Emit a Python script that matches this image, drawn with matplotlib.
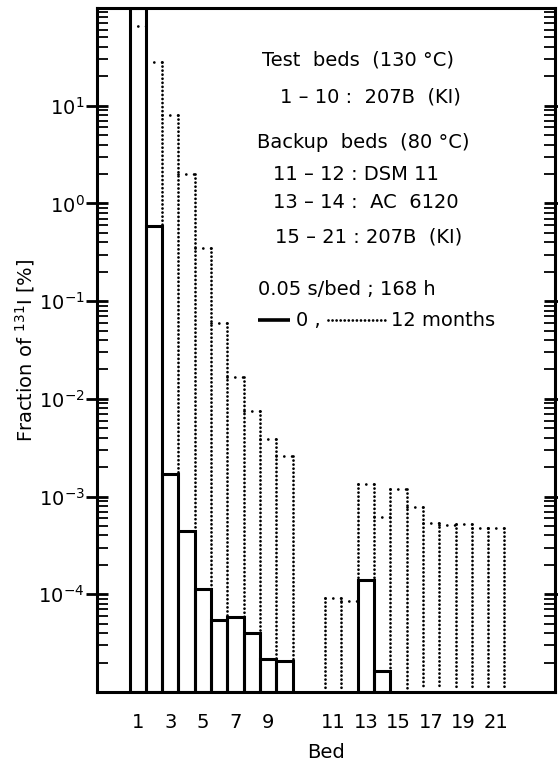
import numpy as np
import matplotlib
matplotlib.use("Agg")
import matplotlib.pyplot as plt
from matplotlib.ticker import FixedLocator, LogLocator, NullFormatter, LogFormatterSciNotation

# ---------------- data ----------------
test_beds = [1, 2, 3, 4, 5, 6, 7, 8, 9, 10]
backup_beds = [11, 12, 13, 14, 15, 16, 17, 18, 19, 20, 21]

# 0 months (solid outline)
fresh_test = [99.0, 0.59, 1.7e-3, 4.4e-4, 1.13e-4, 5.4e-5, 5.8e-5, 4.0e-5, 2.2e-5, 2.07e-5]
fresh_backup = [np.nan, np.nan, 1.4e-4, 1.64e-5, np.nan, np.nan, np.nan, np.nan, np.nan, np.nan, np.nan]

# 12 months (dotted outline)
aged_test = [65.0, 28.0, 8.0, 2.0, 0.35, 0.060, 0.0167, 0.0075, 0.0039, 0.0026]
aged_backup = [9.1e-5, 8.5e-5, 1.34e-3, 6.2e-4, 1.19e-3, 7.8e-4, 5.36e-4, 5.11e-4, 5.24e-4, 4.8e-4, 4.8e-4]

xtick_beds = [1, 3, 5, 7, 9, 11, 13, 15, 17, 19, 21]
ytick_values = [1e-4, 1e-3, 1e-2, 1e-1, 1e0, 1e1]

legend_lines = ["Test  beds  (130 \u00b0C)", "1 \u2013 10 :  207B  (KI)",
                "Backup  beds  (80 \u00b0C)", "11 \u2013 12 : DSM 11",
                "13 \u2013 14 :  AC  6120", "15 \u2013 21 : 207B  (KI)",
                "0.05 s/bed ; 168 h"]

YMIN, YMAX = 1e-5, 1e2
GAP = 2  # empty bed slots between the two groups


def bed_pos(b):
    b = np.asarray(b, float)
    return np.where(b > 10, b + GAP, b)


plt.rcParams['font.family'] = ['DejaVu Sans']
plt.rcParams['mathtext.default'] = 'regular'
FS = 14

fig = plt.figure(figsize=(5.58, 7.64), dpi=100)
L, R, B, T = 97 / 558, 555 / 558, 1 - 692 / 764, 1 - 8 / 764
ax = fig.add_axes([L, B, R - L, T - B])
ax.set_yscale('log')
ax.set_ylim(YMIN, YMAX)
ax.set_xlim(-1.5, 26.6)

LW_DOT = 2.0
DOT = (0, (0.01, 1.45))
DOT_TOP = (0, (0.01, 2.8))
LW_SOLID = 2.2


def dotted_group(beds, vals):
    pos = bed_pos(beds)
    vals = np.asarray(vals, float)
    edges = np.concatenate([pos - 0.5, [pos[-1] + 0.5]])
    padded = np.concatenate([[YMIN], vals, [YMIN]])
    heights = np.maximum(padded[:-1], padded[1:])
    for e, h in zip(edges, heights):
        ax.plot([e, e], [h, YMIN * 1.08], color='black', linewidth=LW_DOT,
                linestyle=DOT, dash_capstyle='round', zorder=2)
    for p, v in zip(pos, vals):
        ax.plot([p - 0.5, p + 0.5], [v, v], color='black', linewidth=LW_DOT,
                linestyle=DOT_TOP, dash_capstyle='round', zorder=2)


def solid_group(beds, vals):
    pos = bed_pos(beds)
    vals = np.asarray(vals, float)
    m = ~np.isnan(vals)
    ax.bar(pos[m], vals[m] - YMIN, bottom=YMIN, width=1.0, fill=False,
           edgecolor='black', linewidth=LW_SOLID, zorder=3)


dotted_group(test_beds, aged_test)
dotted_group(backup_beds, aged_backup)
solid_group(test_beds, fresh_test)
solid_group(backup_beds, fresh_backup)

# axes styling
for s in ax.spines.values():
    s.set_linewidth(2.2)
    s.set_zorder(4)

ax.xaxis.set_major_locator(FixedLocator(bed_pos(xtick_beds)))
ax.set_xticklabels([str(b) for b in xtick_beds])
ax.tick_params(axis='x', length=0, pad=15, labelsize=FS)

ax.yaxis.set_major_locator(FixedLocator(ytick_values))
ax.yaxis.set_major_formatter(LogFormatterSciNotation())
ax.yaxis.set_minor_locator(LogLocator(base=10, subs=np.arange(2, 10), numticks=20))
ax.yaxis.set_minor_formatter(NullFormatter())
ax.tick_params(axis='y', which='major', direction='inout', length=16, width=2.0,
               labelsize=FS, pad=1, right=True)
ax.tick_params(axis='y', which='minor', direction='in', length=8, width=1.3, right=True)

ax.set_ylabel("Fraction of $^{131}$I [%]", fontsize=FS)
ax.yaxis.set_label_coords(-0.13, 0.5)
ax.set_xlabel("Bed", fontsize=FS)
ax.xaxis.set_label_coords(0.5, -0.075)

# annotation block
def px(xp, yp):
    return ((xp - 97) / 458, (692 - yp) / 684)

text_pos = [(262, 60), (280, 97), (257, 143), (273, 175), (273, 203), (275, 237), (258, 290)]
for s, (xp, yp) in zip(legend_lines, text_pos):
    ax.text(*px(xp, yp), s, transform=ax.transAxes, fontsize=FS, ha='left', va='center')

# legend key row
yk = px(0, 320)[1]
ax.plot([px(258, 0)[0], px(290, 0)[0]], [yk, yk], transform=ax.transAxes,
        color='black', linewidth=2.6, solid_capstyle='butt')
ax.text(px(296, 0)[0], yk, "0 ,", transform=ax.transAxes, fontsize=FS, ha='left', va='center')
ax.plot([px(328, 0)[0], px(385, 0)[0]], [yk, yk], transform=ax.transAxes,
        color='black', linewidth=LW_DOT, linestyle=DOT, dash_capstyle='round')
ax.text(px(391, 0)[0], yk, "12 months", transform=ax.transAxes, fontsize=FS, ha='left', va='center')

fig.savefig("out.png", dpi=100)
